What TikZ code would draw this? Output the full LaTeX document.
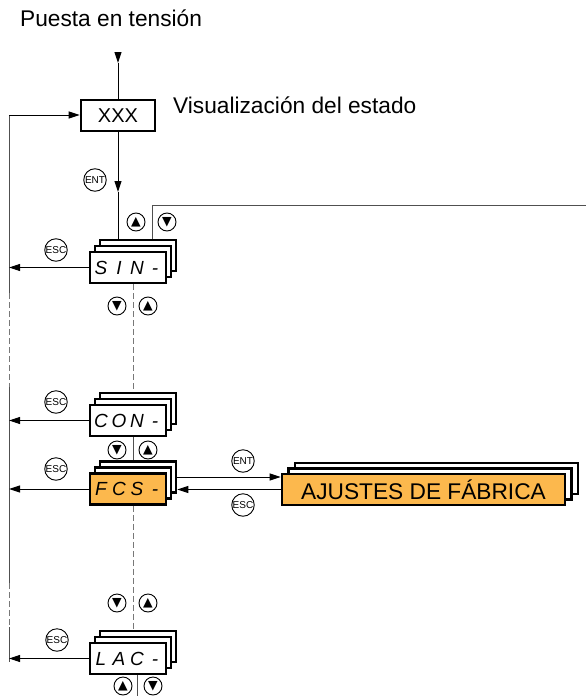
\documentclass[tikz,border=0pt]{standalone}
\usepackage{fontspec}
\setmainfont{Liberation Sans}
\newfontfamily\symf{DejaVu Sans}
\usetikzlibrary{arrows.meta,calc}
\definecolor{orng}{RGB}{252,184,77}
\definecolor{lng}{RGB}{80,80,80}
\definecolor{dng}{RGB}{120,120,120}
\newcommand\segtxt[4]{{\fontsize{19}{19}\selectfont\itshape\makebox[18pt]{#1}\makebox[18pt]{#2}\makebox[18pt]{#3}\makebox[18pt]{#4}}}
\newcommand\cardstack[8]{%
  \node[#4] (#1b) at ({#2+2*#7},{#3-2*#8}) {};
  \node[#4] (#1m) at ({#2+#7},{#3-#8}) {};
  \node[#4, fill=#5] (#1) at (#2,#3) {#6};
}
\begin{document}
\begin{tikzpicture}[x=1pt,y=-1pt,
  card/.style={draw=black, line width=2.6pt, fill=white, minimum width=76pt, minimum height=31pt, inner sep=0pt},
  bigcard/.style={card, minimum width=283pt},
  conn/.style={draw=lng, line width=1pt},
  blk/.style={draw=black, line width=1pt},
  arr/.style={draw=black, line width=1pt, -{Triangle[length=11pt,width=7pt]}},
  dsh/.style={draw=dng, line width=1pt, dash pattern=on 6pt off 3pt},
  keybtn/.style={circle, draw, line width=0.9pt, minimum size=22.5pt, inner sep=0pt, font=\fontsize{10}{10}\selectfont},
  arrbtn/.style={circle, draw, line width=0.9pt, minimum size=18pt, inner sep=0pt, font=\symf\fontsize{12.5}{12.5}\selectfont},
  lbl/.style={font=\fontsize{22.7}{26}\selectfont, inner sep=0pt}
]
\useasboundingbox (0,0) rectangle (586,696);

% labels
\node[lbl, anchor=base west] (pt) at (20,27) {Puesta en tensión};
\node[lbl, anchor=base west] (vis) at (173,113) {Visualización del estado};

% state box
\node[draw, line width=2.6pt, fill=white, minimum width=74pt, minimum height=31pt, inner sep=0pt, font=\fontsize{20}{20}\selectfont] (xxx) at (118,115.5) {XXX};

% card stacks
\cardstack{sim}{128}{267.5}{card}{white}{\segtxt{S}{I}{N}{-}}{5}{6}
\cardstack{con}{128}{420.5}{card}{white}{\segtxt{C}{O}{N}{-}}{5}{6}
\cardstack{fcs}{128}{489}{card}{orng}{\segtxt{F}{C}{S}{-}}{5}{6}
\cardstack{lac}{128}{658.5}{card}{white}{\segtxt{L}{A}{C}{-}}{5}{6}
\cardstack{aj}{423.5}{489.5}{bigcard}{orng}{\fontsize{22.7}{22.7}\selectfont AJUSTES DE FÁBRICA}{6.5}{5.5}

% key buttons
\node[keybtn] (ent1) at (95,180) {ENT};
\node[keybtn] (esc1) at (56,250) {ESC};
\node[keybtn] (esc2) at (56,402) {ESC};
\node[keybtn] (esc3) at (56,469) {ESC};
\node[keybtn] (esc4) at (57,640) {ESC};
\node[keybtn] (ent2) at (243,461) {ENT};
\node[keybtn] (esc5) at (243,505) {ESC};

% arrow buttons
\node[arrbtn] (u1) at (136,222) {▲};
\node[arrbtn] (d1) at (167,222) {▼};
\node[arrbtn] (d2) at (117,306) {▼};
\node[arrbtn] (u2) at (148,306) {▲};
\node[arrbtn] (d3) at (117,450) {▼};
\node[arrbtn] (u3) at (148,450) {▲};
\node[arrbtn] (d4) at (117,603) {▼};
\node[arrbtn] (u4) at (148,603) {▲};
\node[arrbtn] (u5) at (123,686) {▲};
\node[arrbtn] (d5) at (153,686) {▼};

% power-on arrow
\coordinate (pw) at (118,52);
\coordinate (pwa) at (118,63);
\draw[arr] (pw) -- (pwa);
\draw[blk] (pwa) -- (xxx.north);

% ENT to first menu
\coordinate (enta) at (118,192);
\draw[arr] (xxx.south) -- (enta);
\draw[blk] (enta) -- (enta |- simb.north);

% line to the right
\coordinate (rt) at (586,205);
\draw[conn] ($(simb.north)+(14,0)$) |- (rt);

% left return line
\coordinate (L0) at (9,115);
\coordinate (L1) at (9,293);
\coordinate (L2) at (9,387);
\coordinate (L3) at (9,583);
\coordinate (L4) at (9,627);
\coordinate (L5) at (9,662);
\draw[conn] (L0) -- (L1);
\draw[dsh] (L1) -- (L2);
\draw[conn] (L2) -- (L3);
\draw[dsh] (L3) -- (L4);
\draw[conn] (L4) -- (L5);
\draw[arr] (L0) -- (L0 -| xxx.west);

% ESC arrows
\draw[arr] (sim.west) -- (sim.west -| L0);
\draw[arr] (con.west) -- (con.west -| L0);
\draw[arr] (fcs.west) -- (fcs.west -| L0);
\draw[arr] (lac.west) -- (lac.west -| L0);

% vertical menu links
\draw[dsh] (simm.south |- sim.south) -- (simm.south |- conb.north);
\draw[conn] (conm.south |- con.south) -- (conm.south |- fcsb.north);
\draw[dsh] (fcsm.south |- fcs.south) -- (fcsm.south |- lacb.north);
\coordinate (bot) at (137,696);
\draw[conn] (bot |- lac.south) -- (bot);

% FCS <-> factory settings
\draw[arr] (fcsb.east) -- (fcsb.east -| aj.west);
\draw[arr] (aj.west) -- (aj.west -| fcsb.east);
\end{tikzpicture}
\end{document}
